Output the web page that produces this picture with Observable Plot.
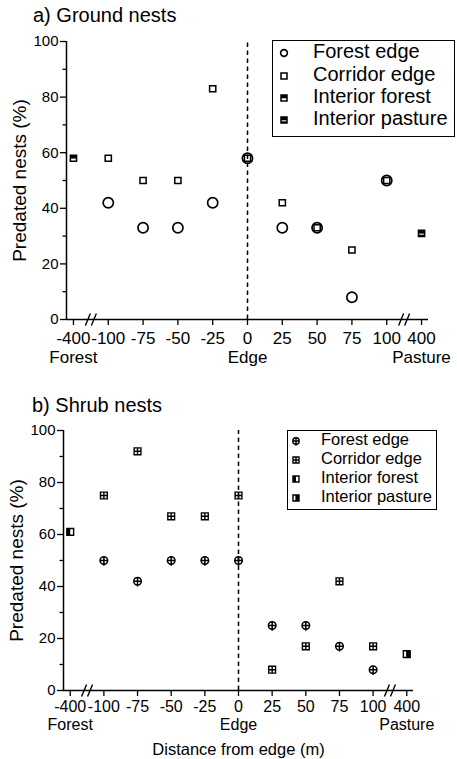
<!DOCTYPE html>
<html><head><meta charset="utf-8">
<script src="https://cdn.jsdelivr.net/npm/d3@7"></script>
<script src="https://cdn.jsdelivr.net/npm/@observablehq/plot@0.6"></script>
<style>
body{margin:0;background:#fff;font-family:"Liberation Sans",Arial,sans-serif;color:#000;}
#root{position:relative;width:457px;height:759px;overflow:hidden;background:#fff;}
.ptitle{position:absolute;font-size:20px;line-height:20px;white-space:nowrap;}
.legend{position:absolute;border:1.5px solid #000;box-sizing:border-box;background:#fff;}
.lrow{position:absolute;white-space:nowrap;}
.lrow svg{position:absolute;overflow:visible;}
.lrow span{position:absolute;}
</style></head><body><div id="root"></div>
<script>
// ---------- data ----------
const distances = [-400, -100, -75, -50, -25, 0, 25, 50, 75, 100, 400];
const tickLabels = ["-400", "-100", "-75", "-50", "-25", "0", "25", "50", "75", "100", "400"];
const regionAt = [-400, 0, 400];
const regionLabels = ["Forest", "Edge", "Pasture"];
const edgeDist = [-100, -75, -50, -25, 0, 25, 50, 75, 100];
const seriesNames = ["Forest edge", "Corridor edge", "Interior forest", "Interior pasture"];
const yTicks = [0, 20, 40, 60, 80, 100];
const yMinor = [10, 30, 50, 70, 90];

// a) Ground nests
const groundForestEdge   = [42, 33, 33, 42, 58, 33, 33, 8, 50];
const groundCorridorEdge = [58, 50, 50, 83, 58, 42, 33, 25, 50];
const groundInteriorForest  = [58];   // at -400
const groundInteriorPasture = [31];   // at 400

// b) Shrub nests
const shrubForestEdge   = [50, 42, 50, 50, 50, 25, 25, 17, 8];
const shrubCorridorEdge = [75, 92, 67, 67, 75, 8, 17, 42, 17];
const shrubInteriorForest  = [61];
const shrubInteriorPasture = [14];

// ---------- helpers ----------
const pos = d => d < -100 ? -125 : d > 100 ? 125 : d;   // broken axis
const tickPos = distances.map(pos);
const regionPos = regionAt.map(pos);
const fmt = p => tickLabels[tickPos.indexOf(p)];
const fmtRegion = p => regionLabels[regionPos.indexOf(p)];
const breakPos = [(pos(-400) + pos(-100)) / 2, (pos(100) + pos(400)) / 2];
const rows = (vals, xs) => vals.map((v, i) => ({x: pos(xs[i]), y: v}));

const sym = fn => ({draw(ctx, size) { const r = Math.sqrt(size / Math.PI); fn(ctx, r); }});
const box = (ctx, x0, y0, x1, y1) => { ctx.moveTo(x0, y0); ctx.lineTo(x1, y0); ctx.lineTo(x1, y1); ctx.lineTo(x0, y1); ctx.closePath(); };
const S = {
  circle: sym((c, r) => { c.moveTo(r, 0); c.arc(0, 0, r, 0, 2 * Math.PI); }),
  square: sym((c, r) => box(c, -r, -r, r, r)),
  circleCross: sym((c, r) => { c.moveTo(r, 0); c.arc(0, 0, r, 0, 2 * Math.PI); c.moveTo(-r, 0); c.lineTo(r, 0); c.moveTo(0, -r); c.lineTo(0, r + 1.5); }),
  squareCross: sym((c, r) => { box(c, -r, -r, r, r); c.moveTo(-r, 0); c.lineTo(r, 0); c.moveTo(0, -r); c.lineTo(0, r); }),
  topHalf: sym((c, r) => box(c, -r, -r, r, 0.1 * r)),
  bottomBand: sym((c, r) => box(c, -r, 0.45 * r, r, r)),
  leftHalf: sym((c, r) => box(c, -r, -r, 0, r)),
  rightPart: sym((c, r) => box(c, -0.2 * r, -r, r, r)),
  brk: sym((c, r) => { c.moveTo(-5.5, 6); c.lineTo(-0.5, -6); c.moveTo(0.5, 6); c.lineTo(5.5, -6); })
};

const root = document.getElementById("root");
const FONT = "'Liberation Sans', Arial, sans-serif";

function panel(cfg) {
  const [x0, x1] = [-130, 130];
  const marks = [
    Plot.ruleY([0], {strokeWidth: 1.5}),
    Plot.ruleX([x0], {y1: 0, y2: 100, strokeWidth: 1.5}),
    Plot.axisY(yTicks, {tickSize: 6, tickPadding: 2, fontSize: 15, label: null, strokeWidth: 1.3}),
    Plot.axisY(yMinor, {tickSize: 3.5, tickFormat: () => "", label: null, strokeWidth: 1.3}),
    Plot.axisY([], {label: "Predated nests (%)", labelAnchor: "center", labelArrow: "none", labelOffset: cfg.yLabelOffset, fontSize: 19}),
    Plot.axisX(tickPos, {tickFormat: fmt, tickSize: 6, tickPadding: cfg.tickPad, fontSize: cfg.xfs, label: null, strokeWidth: 1.3}),
    Plot.axisX(regionPos, {tickFormat: fmtRegion, tickSize: 0, tickPadding: cfg.regionPad, fontSize: cfg.xfs, label: null}),
    Plot.ruleX([0], {y1: 0, y2: 100, strokeWidth: 1.5, strokeDasharray: "4.5,3.5"}),
    Plot.dot(breakPos, {x: d => d, y: () => 0, symbol: S.brk, r: 4, stroke: "black", strokeWidth: 1.4, fill: "none"}),
    ...cfg.dots
  ];
  if (cfg.xTitle) marks.push(Plot.axisX([], {label: cfg.xTitle, labelAnchor: "center", labelArrow: "none", labelOffset: cfg.xTitleOffset, fontSize: 16.5}));
  const chart = Plot.plot({
    width: 457, height: cfg.height,
    marginLeft: cfg.ml, marginRight: cfg.mr, marginTop: cfg.mt, marginBottom: cfg.mb,
    x: {domain: [x0, x1]},
    y: {domain: [0, 100]},
    style: {fontFamily: FONT, color: "black", background: "white", overflow: "visible"},
    marks
  });
  chart.style.position = "absolute";
  chart.style.left = "0px";
  chart.style.top = cfg.top + "px";
  root.appendChild(chart);

  const t = document.createElement("div");
  t.className = "ptitle";
  t.textContent = cfg.title;
  t.style.left = cfg.titleX + "px"; t.style.top = cfg.titleY + "px";
  root.appendChild(t);

  // legend
  const L = cfg.legend;
  const lg = document.createElement("div");
  lg.className = "legend";
  Object.assign(lg.style, {left: L.x + "px", top: L.y + "px", width: L.w + "px", height: L.h + "px"});
  root.appendChild(lg);
  seriesNames.forEach((name, i) => {
    const row = document.createElement("div");
    row.className = "lrow";
    const cy = L.rows[i] - L.y;
    let svg = `<svg width="1" height="1" style="left:${L.sx - L.x}px;top:${cy}px">`;
    for (const part of L.symbols[i]) {
      const p = d3.symbol(part.s, part.r * part.r * Math.PI)();
      svg += `<path d="${p}" fill="${part.fill}" stroke="${part.stroke}" stroke-width="${part.sw || 0}"/>`;
    }
    svg += `</svg>`;
    row.innerHTML = svg + `<span style="left:${L.tx - L.x}px;top:${cy - L.fs * 0.58}px;font-size:${L.fs}px;line-height:1">${name}</span>`;
    row.style.left = "0px"; row.style.top = "0px";
    lg.appendChild(row);
  });
}

const dotO = (data, s, r, sw, fill = "none") => Plot.dot(data, {x: "x", y: "y", symbol: s, r, stroke: "black", strokeWidth: sw, fill});
const dotF = (data, s, r) => Plot.dot(data, {x: "x", y: "y", symbol: s, r, fill: "black", stroke: "none"});

// ---------- panel a ----------
const aFE = rows(groundForestEdge, edgeDist);
const aCE = rows(groundCorridorEdge, edgeDist);
const aIF = rows(groundInteriorForest, [-400]);
const aIP = rows(groundInteriorPasture, [400]);
panel({
  top: 0, height: 380, ml: 66, mr: 29, mt: 41, mb: 61,
  xfs: 17, tickPad: 6, regionPad: 31, yLabelOffset: 54,
  title: "a) Ground nests", titleX: 33, titleY: 5,
  dots: [
    dotO(aCE, S.square, 3.1, 1.5),
    dotO(aIF, S.square, 3.1, 1.5), dotF(aIF, S.topHalf, 3.1),
    dotO(aIP, S.square, 3.1, 1.5), dotF(aIP, S.topHalf, 3.1), dotF(aIP, S.bottomBand, 3.1),
    dotO(aFE, S.circle, 5.1, 1.7)
  ],
  legend: {
    x: 272, y: 40, w: 183, h: 97, sx: 283, tx: 312, fs: 20, rows: [52, 75, 97, 119],
    symbols: [
      [{s: S.circle, r: 3.4, fill: "none", stroke: "black", sw: 1.6}],
      [{s: S.square, r: 3.0, fill: "none", stroke: "black", sw: 1.5}],
      [{s: S.square, r: 3.0, fill: "none", stroke: "black", sw: 1.5}, {s: S.topHalf, r: 3.0, fill: "black", stroke: "none"}],
      [{s: S.square, r: 3.0, fill: "none", stroke: "black", sw: 1.5}, {s: S.topHalf, r: 3.0, fill: "black", stroke: "none"}, {s: S.bottomBand, r: 3.0, fill: "black", stroke: "none"}]
    ]
  }
});

// ---------- panel b ----------
const bFE = rows(shrubForestEdge, edgeDist);
const bCE = rows(shrubCorridorEdge, edgeDist);
const bIF = rows(shrubInteriorForest, [-400]);
const bIP = rows(shrubInteriorPasture, [400]);
panel({
  top: 380, height: 379, ml: 63, mr: 44, mt: 50, mb: 69,
  xfs: 16, tickPad: 4, regionPad: 28, yLabelOffset: 54,
  xTitle: "Distance from edge (m)", xTitleOffset: 64,
  title: "b) Shrub nests", titleX: 32, titleY: 395,
  dots: [
    dotO(bCE, S.squareCross, 3.4, 1.4),
    dotO(bIF, S.square, 3.4, 1.4), dotF(bIF, S.leftHalf, 3.4),
    dotO(bIP, S.square, 3.4, 1.4), dotF(bIP, S.rightPart, 3.4),
    dotO(bFE, S.circleCross, 3.8, 1.5)
  ],
  legend: {
    x: 287, y: 430, w: 150, h: 80, sx: 295, tx: 320, fs: 16.5, rows: [440, 459, 478, 497],
    symbols: [
      [{s: S.circleCross, r: 3.2, fill: "none", stroke: "black", sw: 1.4}],
      [{s: S.squareCross, r: 3.0, fill: "none", stroke: "black", sw: 1.4}],
      [{s: S.square, r: 3.0, fill: "none", stroke: "black", sw: 1.4}, {s: S.leftHalf, r: 3.0, fill: "black", stroke: "none"}],
      [{s: S.square, r: 3.0, fill: "none", stroke: "black", sw: 1.4}, {s: S.rightPart, r: 3.0, fill: "black", stroke: "none"}]
    ]
  }
});
</script></body></html>
